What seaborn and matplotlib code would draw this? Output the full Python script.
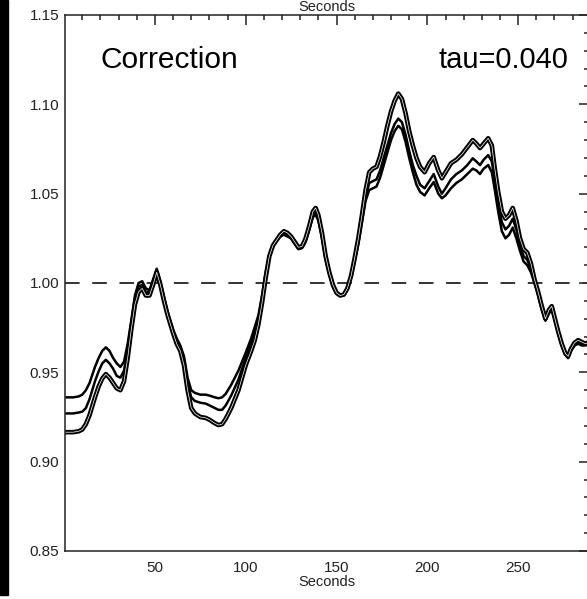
import numpy as np
import pandas as pd
import matplotlib
matplotlib.use("Agg")
import matplotlib.pyplot as plt
from matplotlib.ticker import MultipleLocator, FormatStrFormatter
from matplotlib.patches import Rectangle
import seaborn as sns

# ---------------- data ----------------
seconds = [1, 5, 8, 10, 12, 14, 17, 19, 21, 23, 25, 27, 29, 31, 33, 35, 37, 39,
           41, 43, 45, 47, 49, 51, 53, 55, 57, 60, 62, 64, 66, 68, 70, 72, 75,
           78, 80, 83, 85, 87, 89, 92, 96, 100, 103, 105, 107, 109, 111, 113,
           115, 117, 119, 121, 123, 125, 127, 129, 131, 133, 135, 137, 138.5,
           140, 142, 144, 146, 148, 150, 152, 154, 156, 158, 160, 162, 164, 166,
           168, 170, 172, 174, 176, 178, 180, 182, 184, 186, 188, 190, 192, 194,
           196, 198.5, 201, 203.5, 206, 208, 210, 213, 216, 219, 222, 225, 227,
           229, 231, 233.5, 235.5, 237, 239, 241, 243, 245, 247, 249, 251, 253,
           255, 257, 259, 261, 263, 265, 267, 268.5, 270, 272, 274, 276, 277.5,
           279, 281, 283, 285, 287, 289]

cluster = [0.9165, 0.9165, 0.917, 0.918, 0.921, 0.926, 0.936, 0.942, 0.9465,
           0.949, 0.947, 0.944, 0.941, 0.940, 0.945, 0.958, 0.974, 0.988, 0.995,
           0.997, 0.993, 0.993, 0.999, 1.006, 0.999, 0.990, 0.982, 0.972, 0.966,
           0.962, 0.954, 0.940, 0.930, 0.927, 0.925, 0.9245, 0.9235, 0.9215,
           0.9205, 0.921, 0.924, 0.930, 0.940, 0.954, 0.962, 0.968, 0.977, 0.989,
           1.003, 1.015, 1.021, 1.024, 1.027, 1.029, 1.028, 1.026, 1.023, 1.020,
           1.0205, 1.025, 1.032, 1.040, 1.042, 1.038, 1.028, 1.015, 1.006, 0.999,
           0.9945, 0.993, 0.9935, 0.997, 1.004, 1.014, 1.025, 1.038, 1.052, 1.062,
           1.064, 1.065, 1.071, 1.079, 1.088, 1.096, 1.102, 1.106, 1.103, 1.095,
           1.085, 1.077, 1.070, 1.065, 1.062, 1.067, 1.0705, 1.063, 1.0586, 1.062,
           1.067, 1.069, 1.072, 1.076, 1.080, 1.078, 1.0755, 1.078, 1.081, 1.077,
           1.065, 1.051, 1.040, 1.036, 1.038, 1.042, 1.035, 1.025, 1.019, 1.017,
           1.011, 1.002, 0.995, 0.987, 0.980, 0.985, 0.987, 0.981, 0.973, 0.966,
           0.9605, 0.959, 0.963, 0.9665, 0.968, 0.967, 0.966, 0.967]

middle = [0.927, 0.927, 0.9275, 0.928, 0.930, 0.935, 0.945, 0.9505, 0.955,
          0.957, 0.955, 0.952, 0.948, 0.947, 0.951, 0.963, 0.977, 0.991, 0.998,
          0.999, 0.995, 0.995, 1.001, 1.007, 1.000, 0.991, 0.983, 0.973, 0.968,
          0.964, 0.957, 0.944, 0.936, 0.934, 0.933, 0.9325, 0.9315, 0.930,
          0.929, 0.929, 0.9315, 0.937, 0.946, 0.958, 0.966, 0.972, 0.980, 0.991,
          1.004, 1.015, 1.021, 1.024, 1.026, 1.028, 1.027, 1.025, 1.022, 1.019,
          1.020, 1.024, 1.030, 1.038, 1.039, 1.036, 1.026, 1.014, 1.005, 0.998,
          0.994, 0.993, 0.9935, 0.997, 1.003, 1.013, 1.023, 1.036, 1.048, 1.056,
          1.057, 1.058, 1.063, 1.070, 1.077, 1.084, 1.089, 1.092, 1.090, 1.083,
          1.074, 1.066, 1.060, 1.055, 1.053, 1.057, 1.061, 1.054, 1.050, 1.053,
          1.058, 1.061, 1.063, 1.066, 1.0698, 1.068, 1.066, 1.069, 1.0716, 1.068,
          1.058, 1.045, 1.034, 1.030, 1.032, 1.036, 1.030, 1.021, 1.015, 1.013,
          1.008, 1.001, 0.994, 0.986, 0.979, 0.984, 0.986, 0.980, 0.972, 0.965,
          0.960, 0.958, 0.962, 0.965, 0.967, 0.966, 0.966, 0.966]

outer = [0.936, 0.936, 0.9365, 0.9375, 0.940, 0.944, 0.953, 0.958, 0.962,
         0.964, 0.962, 0.958, 0.955, 0.953, 0.956, 0.966, 0.979, 0.993, 1.000,
         1.001, 0.997, 0.996, 1.002, 1.008, 1.001, 0.992, 0.984, 0.974, 0.969,
         0.965, 0.959, 0.947, 0.940, 0.9385, 0.9375, 0.9375, 0.937, 0.936,
         0.9355, 0.936, 0.938, 0.943, 0.951, 0.961, 0.969, 0.9755, 0.982, 0.993,
         1.006, 1.016, 1.021, 1.024, 1.026, 1.027, 1.026, 1.025, 1.022, 1.019,
         1.0195, 1.023, 1.030, 1.037, 1.038, 1.035, 1.025, 1.013, 1.005, 0.998,
         0.994, 0.993, 0.9935, 0.997, 1.003, 1.012, 1.022, 1.034, 1.046, 1.052,
         1.053, 1.054, 1.059, 1.066, 1.073, 1.080, 1.085, 1.088, 1.086, 1.079,
         1.070, 1.062, 1.055, 1.051, 1.049, 1.053, 1.0565, 1.050, 1.0474, 1.049,
         1.053, 1.056, 1.058, 1.061, 1.064, 1.063, 1.061, 1.064, 1.066, 1.062,
         1.053, 1.040, 1.029, 1.025, 1.027, 1.031, 1.025, 1.018, 1.012, 1.010,
         1.006, 1.000, 0.993, 0.985, 0.979, 0.983, 0.985, 0.980, 0.972, 0.965,
         0.960, 0.958, 0.962, 0.965, 0.966, 0.965, 0.965, 0.966]

series_names = ["cluster", "middle", "outer"]
x_ticks = [50, 100, 150, 200, 250]
y_ticks = [0.85, 0.90, 0.95, 1.00, 1.05, 1.10, 1.15]
reference_level = 1.0
title_left = "Correction"
title_right = "tau=0.040"
x_label = "Seconds"

df = pd.concat([
    pd.DataFrame({"Seconds": seconds, "value": vals, "series": name})
    for name, vals in zip(series_names, [cluster, middle, outer])
], ignore_index=True)

# ---------------- plot ----------------
sns.set_theme(style="white")
plt.rcParams["font.family"] = ["Liberation Sans", "DejaVu Sans"]

W, H = 587, 599
fig = plt.figure(figsize=(W / 100, H / 100), dpi=100)
ax = fig.add_axes([65 / W, 1 - 551 / H, 524 / W, 536 / H])

widths = {"cluster": 3.3, "middle": 1.8, "outer": 1.8}
for name in ["outer", "middle", "cluster"]:
    sub = df[df.series == name]
    sns.lineplot(data=sub, x="Seconds", y="value", color="black",
                 lw=widths[name], ax=ax, legend=False, estimator=None,
                 sort=False, solid_joinstyle="round", solid_capstyle="round")
    if name == "cluster":
        ax.plot(sub["Seconds"], sub["value"], color="white", lw=0.5,
                zorder=3, solid_joinstyle="round")

ax.axhline(reference_level, color="#333333", lw=1.4,
           linestyle=(0, (7.5, 6.5)), zorder=1)

ax.set_xlim(0.5, 289)
ax.set_ylim(0.85, 1.15)
ax.set_xticks(x_ticks)
ax.set_yticks(y_ticks)
ax.yaxis.set_major_formatter(FormatStrFormatter("%.2f"))
ax.xaxis.set_minor_locator(MultipleLocator(10))
ax.yaxis.set_minor_locator(MultipleLocator(0.01))
ax.tick_params(which="both", direction="in", top=True, right=True,
               color="#222222", width=1.1, labelsize=11, labelcolor="#222222")
ax.tick_params(which="major", length=7.2)
ax.tick_params(which="minor", length=3.6)
ax.tick_params(axis="y", pad=4)
ax.tick_params(axis="x", pad=7)
for s in ax.spines.values():
    s.set_color("#222222")
    s.set_linewidth(1.1)

ax.set_xlabel(x_label, fontsize=10.5, labelpad=0, color="#222222")
ax.set_ylabel("")

ax.text(100 / W, 1 - 68 / H, title_left, transform=fig.transFigure,
        fontsize=21.5, ha="left", va="baseline", color="black")
ax.text(568 / W, 1 - 68 / H, title_right, transform=fig.transFigure,
        fontsize=21, ha="right", va="baseline", color="black")

fig.text(327 / W, 1 - 11 / H, x_label, fontsize=10.5, ha="center",
         va="baseline", color="#222222")

fig.patches.append(Rectangle((0, 1 - 595 / H), 8 / W, 595 / H,
                             transform=fig.transFigure, color="black"))

fig.savefig("out.png", dpi=100)
